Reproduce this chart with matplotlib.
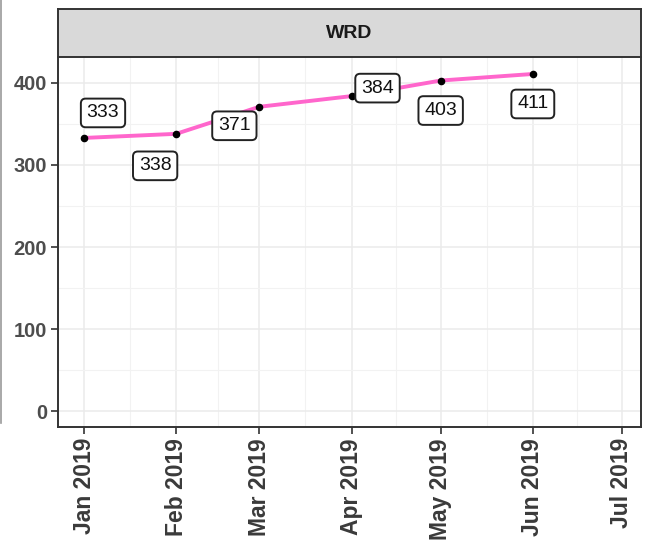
import matplotlib
matplotlib.use("Agg")
import matplotlib.pyplot as plt
import matplotlib.dates as mdates
import numpy as np
from datetime import date
from matplotlib.lines import Line2D

# data
months = ["2019-01-01", "2019-02-01", "2019-03-01", "2019-04-01", "2019-05-01", "2019-06-01"]
values = [333, 338, 371, 384, 403, 411]
panel = "WRD"
# label offsets (pixels) relative to each point, as in the picture
label_dx = [19, -21, -25, 26, 0, 0]
label_dy = [25, -32, -19, 8, -30, -30]

plt.rcParams["font.family"] = "Liberation Sans"

W, H = 646, 545
fig = plt.figure(figsize=(W / 100, H / 100), dpi=100)

px_l, px_r, px_t, px_b = 58, 641, 57, 427
ax = fig.add_axes([px_l / W, 1 - px_b / H, (px_r - px_l) / W, (px_b - px_t) / H])
strip = fig.add_axes([px_l / W, 1 - px_t / H, (px_r - px_l) / W, (px_t - 9) / H])

x = np.array([np.datetime64(m) for m in months], dtype="datetime64[D]")
xd = mdates.date2num(x)

ax.plot(xd, values, color="#FF66CC", lw=2.8, zorder=3, solid_capstyle="butt")
ax.scatter(xd, values, s=20, color="black", zorder=4)

for xi, v, dx, dy in zip(xd, values, label_dx, label_dy):
    ax.annotate(str(v), (xi, v), xytext=(dx, dy), textcoords="offset pixels",
                ha="center", va="center", fontsize=14, color="#111111",
                bbox=dict(boxstyle="round,pad=0.3,rounding_size=0.25", fc="white",
                          ec="#222222", lw=1.4), zorder=5)

# axes limits / ticks
jan = mdates.date2num(date(2019, 1, 1))
jul = mdates.date2num(date(2019, 7, 1))
ax.set_xlim(jan - 8.75, jul + 6.4)
ax.set_ylim(-19.5, 431.7)

major = [mdates.date2num(date(2019, m, 1)) for m in range(1, 8)]
minor = [(a + b) / 2 for a, b in zip(major[:-1], major[1:])]
ax.set_xticks(major)
ax.set_xticks(minor, minor=True)
ax.xaxis.set_major_formatter(mdates.DateFormatter("%b %Y"))
ax.set_yticks([0, 100, 200, 300, 400])
ax.set_yticks([50, 150, 250, 350], minor=True)

ax.grid(True, which="major", color="#EBEBEB", lw=1.1, zorder=0)
ax.grid(True, which="minor", color="#F2F2F2", lw=0.8, zorder=0)
ax.set_axisbelow(True)

ax.tick_params(axis="both", which="major", length=5, width=1.2, color="#333333", pad=3)
ax.tick_params(axis="both", which="minor", length=0)
for lab in ax.get_xticklabels():
    lab.set_rotation(90)
    lab.set_fontweight("bold")
    lab.set_fontsize(16.5)
    lab.set_color("#3A3A3A")
for lab in ax.get_yticklabels():
    lab.set_fontweight("bold")
    lab.set_fontsize(14.5)
    lab.set_color("#4D4D4D")

ax.spines["top"].set_visible(False)
for side in ["left", "bottom", "right"]:
    ax.spines[side].set_color("#333333")
    ax.spines[side].set_linewidth(1.4)

# facet strip
strip.set_facecolor("#D9D9D9")
strip.set_xticks([])
strip.set_yticks([])
for s in strip.spines.values():
    s.set_color("#333333")
    s.set_linewidth(1.4)
strip.text(0.5, 0.5, panel, ha="center", va="center", fontsize=14, fontweight="bold",
           color="#1A1A1A", transform=strip.transAxes)

# faint line at the left edge of the image
fig.add_artist(Line2D([1 / W, 1 / W], [1 - 423 / H, 1], color="#9A9A9A", lw=1.2))

fig.savefig("out.png", dpi=100)
